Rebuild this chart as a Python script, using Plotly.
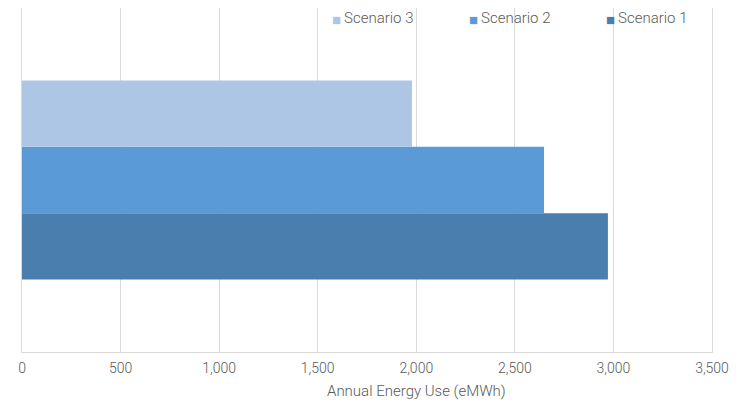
import plotly.graph_objects as go

# data
categories = ["Annual Energy Use"]
scenarios = ["Scenario 1", "Scenario 2", "Scenario 3"]
energy_use = [2972, 2648, 1978]
colors = ["#4A7EAF", "#5B9BD5", "#ADC6E5"]
tick_vals = [0, 500, 1000, 1500, 2000, 2500, 3000, 3500]

GRID = "#D9D9D9"
TEXT = "#595959"

# the page body adds an 8px offset, so the figure is sized 8px smaller
W, H = 736, 396
L, R, T, B = 14, 32, 0, 52
PW, PH = W - L - R, H - T - B

fig = go.Figure()
for name, val, col in zip(scenarios, energy_use, colors):
    fig.add_trace(go.Bar(y=categories, x=[val], name=name, orientation="h",
                         marker=dict(color=col, line=dict(width=0)), showlegend=False))

# legend drawn as annotations so marker/text spacing matches the original
legend_x = {"Scenario 3": 328, "Scenario 2": 465, "Scenario 1": 602}
for name, col in zip(scenarios, colors):
    x0 = legend_x[name]
    fig.add_annotation(text="■", xref="paper", yref="paper",
                       x=(x0 - L) / PW, y=1 - 12 / PH, xanchor="center", yanchor="middle",
                       showarrow=False, font=dict(family="DejaVu Sans", size=15, color=col))
    fig.add_annotation(text=name, xref="paper", yref="paper",
                       x=(x0 + 6 - L) / PW, y=1 - 10 / PH, xanchor="left", yanchor="middle",
                       showarrow=False, font=dict(size=15, color=TEXT, weight=300))

fig.update_layout(
    width=W, height=H,
    margin=dict(l=L, r=R, t=T, b=B, autoexpand=False),
    paper_bgcolor="white", plot_bgcolor="white",
    barmode="group", bargap=0.422, bargroupgap=0,
    font=dict(family="Roboto", color=TEXT, size=14, weight=300),
    xaxis=dict(range=[0, 3500], tickvals=tick_vals, tickformat=",d", automargin=False,
               showgrid=True, gridcolor=GRID, gridwidth=1, zeroline=False,
               showline=True, linecolor=GRID, mirror=True, ticks="", ticklabelstandoff=3,
               tickfont=dict(size=14, color=TEXT, weight=300)),
    yaxis=dict(showticklabels=False, showgrid=False, zeroline=False, automargin=False,
               showline=True, linecolor=GRID, mirror=True, ticks="", range=[-0.5, 0.5]),
)
fig.add_annotation(text="Annual Energy Use (eMWh)", xref="paper", yref="paper",
                   x=(408 - L) / PW, y=-39 / PH, xanchor="center", yanchor="middle", showarrow=False,
                   font=dict(size=15, color=TEXT, weight=300))

fig.write_html("out.html")
